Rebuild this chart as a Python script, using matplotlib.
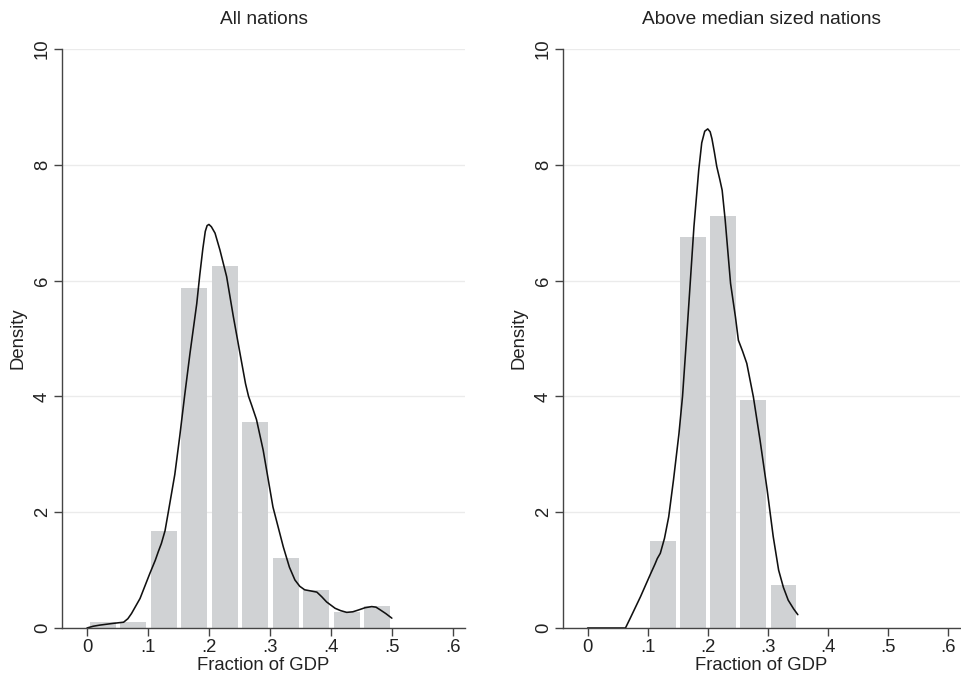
import matplotlib
matplotlib.use("Agg")
import matplotlib.pyplot as plt
import numpy as np

plt.rcParams['font.family'] = ['Liberation Sans', 'DejaVu Sans']

# ---- data ----
bin_width = 0.05
left_bin_starts = [0.0, 0.05, 0.10, 0.15, 0.20, 0.25, 0.30, 0.35, 0.40, 0.45]
left_heights = [0.10, 0.10, 1.68, 5.87, 6.25, 3.55, 1.21, 0.66, 0.28, 0.38]

right_bin_starts = [0.10, 0.15, 0.20, 0.25, 0.30]
right_heights = [1.51, 6.75, 7.12, 3.94, 0.75]

left_kde_x = [0.0, 0.010, 0.021, 0.043, 0.060, 0.067, 0.073, 0.087, 0.103, 0.112,
              0.117, 0.122, 0.128, 0.133, 0.144, 0.152, 0.160, 0.169, 0.180, 0.185,
              0.190, 0.194, 0.197, 0.200, 0.204, 0.210, 0.218, 0.229, 0.240, 0.251,
              0.260, 0.265, 0.270, 0.278, 0.289, 0.305, 0.322, 0.332, 0.341, 0.349,
              0.357, 0.367, 0.377, 0.385, 0.393, 0.407, 0.416, 0.426, 0.436, 0.445,
              0.456, 0.467, 0.474, 0.480, 0.490, 0.500]
left_kde_y = [0.0, 0.03, 0.05, 0.08, 0.10, 0.16, 0.25, 0.51, 0.94, 1.17,
              1.32, 1.46, 1.68, 1.98, 2.65, 3.30, 4.00, 4.75, 5.60, 6.10,
              6.55, 6.85, 6.95, 6.97, 6.93, 6.82, 6.53, 6.07, 5.38, 4.74,
              4.22, 4.00, 3.85, 3.60, 3.07, 2.09, 1.40, 1.05, 0.83, 0.72,
              0.66, 0.64, 0.62, 0.54, 0.45, 0.34, 0.30, 0.27, 0.28, 0.31,
              0.35, 0.37, 0.36, 0.32, 0.25, 0.17]

right_kde_x = [0.0, 0.063, 0.071, 0.088, 0.105, 0.112, 0.116, 0.121, 0.128, 0.135,
               0.143, 0.152, 0.158, 0.166, 0.177, 0.185, 0.190, 0.195, 0.200, 0.204,
               0.207, 0.211, 0.215, 0.220, 0.224, 0.229, 0.238, 0.246, 0.251, 0.258,
               0.265, 0.276, 0.287, 0.299, 0.309, 0.318, 0.326, 0.334, 0.343, 0.350]
right_kde_y = [0.0, 0.0, 0.17, 0.54, 0.94, 1.10, 1.20, 1.29, 1.55, 1.92,
               2.56, 3.35, 4.00, 5.20, 6.93, 7.91, 8.38, 8.58, 8.62, 8.57,
               8.45, 8.22, 7.97, 7.75, 7.56, 7.05, 5.95, 5.38, 4.97, 4.78,
               4.57, 3.99, 3.25, 2.38, 1.58, 1.00, 0.70, 0.48, 0.33, 0.23]

titles = ["All nations", "Above median sized nations"]
x_ticks = [0, 0.1, 0.2, 0.3, 0.4, 0.5, 0.6]
x_tick_labels = ["0", ".1", ".2", ".3", ".4", ".5", ".6"]
y_ticks = [0, 2, 4, 6, 8, 10]
x_label = "Fraction of GDP"
y_label = "Density"

# ---- figure ----
W, H = 961, 679
fig = plt.figure(figsize=(W / 100, H / 100), dpi=100)
ax_rects = [
    [62 / W, 51 / H, 403 / W, 579 / H],
    [563 / W, 51 / H, 397 / W, 579 / H],
]

panels = [
    (left_bin_starts, left_heights, left_kde_x, left_kde_y),
    (right_bin_starts, right_heights, right_kde_x, right_kde_y),
]

bar_color = "#d0d2d4"
spine_color = "#444444"
fs = 13.3

for rect, (starts, heights, kx, ky), title in zip(ax_rects, panels, titles):
    ax = fig.add_axes(rect)
    mids = np.array(starts) + bin_width / 2 + 0.001
    ax.bar(mids, heights, width=0.043, color=bar_color, edgecolor="none", zorder=2)
    ax.plot(kx, ky, color="#111111", lw=1.15, zorder=3,
            solid_joinstyle="round", solid_capstyle="round")
    ax.set_xlim(-0.041, 0.62)
    ax.set_ylim(0, 10)
    ax.set_yticks(y_ticks)
    ax.set_yticklabels([str(t) for t in y_ticks], rotation=90, va="center", fontsize=fs)
    ax.set_xticks(x_ticks)
    ax.set_xticklabels(x_tick_labels, fontsize=fs)
    for t in y_ticks:
        ax.axhline(t, color="#ebebeb", lw=1.0, zorder=1)
    for s in ["top", "right"]:
        ax.spines[s].set_visible(False)
    for s in ["left", "bottom"]:
        ax.spines[s].set_color(spine_color)
        ax.spines[s].set_linewidth(1.0)
        ax.spines[s].set_zorder(4)
    ax.tick_params(axis="both", direction="out", length=6, width=1.0,
                   color=spine_color, labelcolor="#222222", pad=2)
    ax.set_xlabel(x_label, fontsize=fs, color="#222222", labelpad=1)
    ax.set_ylabel(y_label, fontsize=fs, color="#222222", labelpad=5)
    ax.set_title(title, fontsize=13.8, color="#222222", pad=18)
    ax.set_facecolor("white")

fig.savefig("out.png", dpi=100, facecolor="white")
